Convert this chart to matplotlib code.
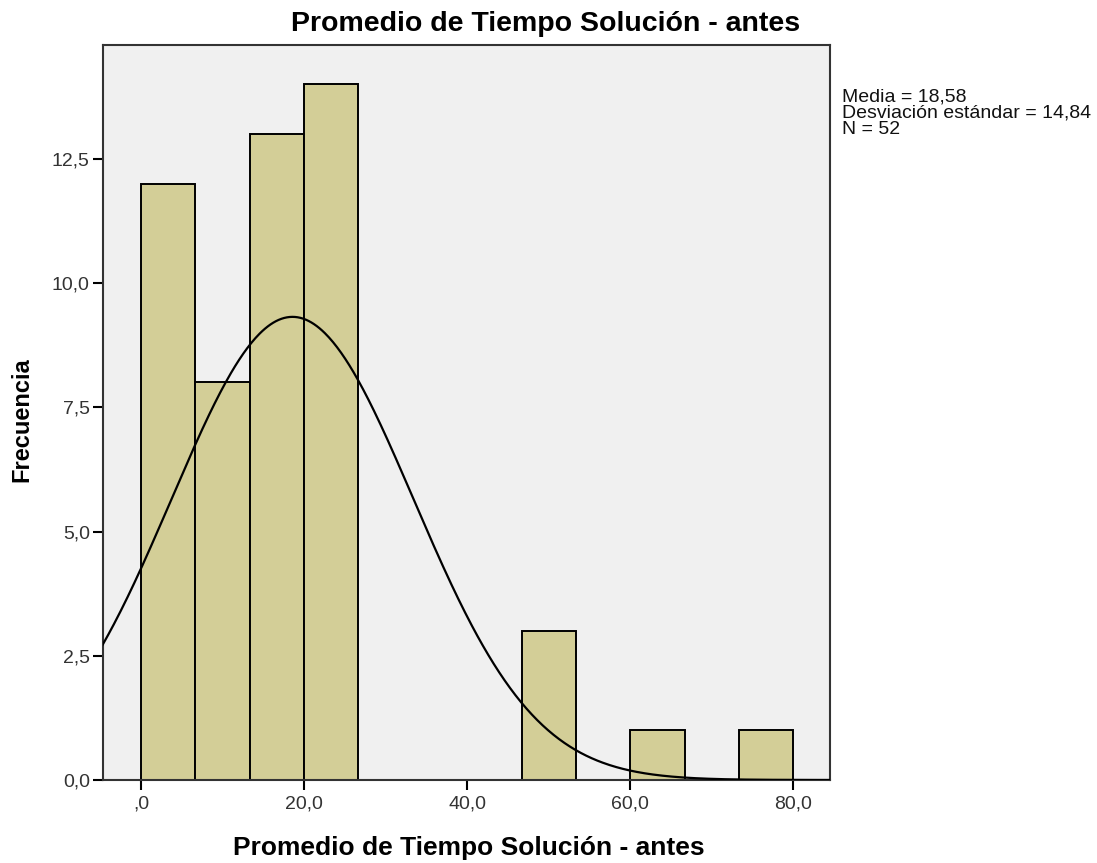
import numpy as np
import matplotlib
matplotlib.use("Agg")
import matplotlib.pyplot as plt
from matplotlib import font_manager

# Data
counts = [12, 8, 13, 14, 0, 0, 0, 3, 0, 1, 0, 1]
bin_start, bin_end = 0.0, 80.0
mean_val = 18.58
sd_val = 14.84
n_val = 52
xticks = [0, 20, 40, 60, 80]
xtick_labels = [",0", "20,0", "40,0", "60,0", "80,0"]
yticks = [0, 2.5, 5.0, 7.5, 10.0, 12.5]
ytick_labels = ["0,0", "2,5", "5,0", "7,5", "10,0", "12,5"]
title = "Promedio de Tiempo Solución - antes"
xlabel = "Promedio de Tiempo Solución - antes"
ylabel = "Frecuencia"
stats_lines = ["Media = 18,58", "Desviación estándar = 14,84", "N = 52"]

avail = {f.name for f in font_manager.fontManager.ttflist}
narrow = "Liberation Sans Narrow" if "Liberation Sans Narrow" in avail else "Liberation Sans"

W, H = 1097, 863
fig = plt.figure(figsize=(W / 100, H / 100), dpi=100)
ax = fig.add_axes([103 / W, 1 - 780 / H, (830 - 103) / W, (780 - 45) / H])
ax.set_facecolor("#F0F0F0")

edges = np.linspace(bin_start, bin_end, len(counts) + 1)
width = edges[1] - edges[0]
for left, c in zip(edges[:-1], counts):
    if c > 0:
        ax.bar(left, c, width=width, align="edge", color="#D3CE97",
               edgecolor="black", linewidth=1.4, zorder=2)

xs = np.linspace(-10, 90, 600)
ys = n_val * width / (sd_val * np.sqrt(2 * np.pi)) * np.exp(-0.5 * ((xs - mean_val) / sd_val) ** 2)
ax.plot(xs, ys, color="black", linewidth=1.6, zorder=3)

ax.set_xlim(-4.66, 84.5)
ax.set_ylim(0, 14.79)
ax.set_xticks(xticks)
ax.set_xticklabels(xtick_labels, fontfamily=narrow, fontsize=14, color="#333333")
ax.set_yticks(yticks)
ax.set_yticklabels(ytick_labels, fontfamily=narrow, fontsize=14, color="#333333")
ax.tick_params(axis="both", direction="out", length=7.5, width=1.5, color="black")
ax.tick_params(axis="x", pad=4)
ax.tick_params(axis="y", pad=2)
for s in ax.spines.values():
    s.set_color("#333333")
    s.set_linewidth(1.5)

fig.text(546 / W, 1 - 24 / H, title, ha="center", va="center",
         fontfamily="Liberation Sans", fontweight="bold", fontsize=20.5)
fig.text(469 / W, 1 - 848 / H, xlabel, ha="center", va="center",
         fontfamily=narrow, fontweight="bold", fontsize=19)
fig.text(22 / W, 1 - 420 / H, ylabel, ha="center", va="center", rotation=90,
         fontfamily="Liberation Sans", fontweight="bold", fontsize=17)
for i, line in enumerate(stats_lines):
    fig.text(842 / W, 1 - (102 + 16 * i) / H, line, ha="left", va="baseline",
             fontfamily="Liberation Sans", fontsize=14, color="#111111")

fig.savefig("out.png", dpi=100)
